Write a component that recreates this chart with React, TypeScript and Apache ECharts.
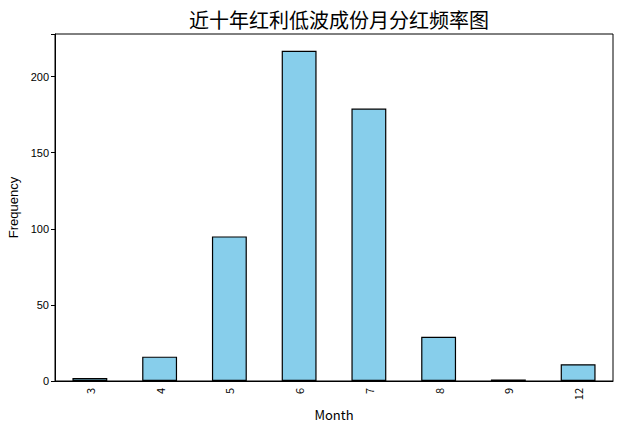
import React, { useEffect, useRef } from "react";
import * as echarts from "echarts";

const months = ["3", "4", "5", "6", "7", "8", "9", "12"];
const frequency = [2, 16, 95, 217, 179, 29, 1, 11];
const yTicks = { min: 0, max: 228, interval: 50 };

const CJK = '"Noto Sans CJK SC", "SimHei", sans-serif';

export default function App() {
  const ref = useRef<HTMLDivElement>(null);
  useEffect(() => {
    if (!ref.current) return;
    const chart = echarts.init(ref.current, undefined, { renderer: "svg" });
    chart.setOption({
      animation: false,
      backgroundColor: "#ffffff",
      title: {
        text: "近十年红利低波成份月分红频率图",
        left: 334,
        textAlign: "center",
        top: 4,
        textStyle: { fontFamily: CJK, fontSize: 20, fontWeight: "normal", color: "#000" },
      },
      grid: {
        left: 55, top: 34, right: 27, bottom: 43,
        containLabel: false, outerBoundsMode: "none",
        show: true, borderColor: "#000", borderWidth: 1,
      },
      xAxis: {
        type: "category",
        data: months,
        name: "Month",
        nameLocation: "middle",
        nameGap: 24,
        nameTextStyle: { fontFamily: CJK, fontSize: 13, color: "#000" },
        axisLine: { lineStyle: { color: "#000", width: 1 } },
        axisTick: { alignWithLabel: true, length: 4, lineStyle: { color: "#000" } },
        axisLabel: { rotate: 90, fontFamily: CJK, fontSize: 11, color: "#000", margin: 7 },
      },
      yAxis: {
        type: "value",
        min: yTicks.min,
        max: yTicks.max,
        interval: yTicks.interval,
        name: "Frequency",
        nameLocation: "middle",
        nameGap: 33,
        nameTextStyle: { fontFamily: '"Liberation Sans", Arial, sans-serif', fontSize: 13, color: "#000" },
        axisLine: { show: true, lineStyle: { color: "#000", width: 1 } },
        axisTick: { show: true, length: 4, lineStyle: { color: "#000" } },
        axisLabel: {
          fontFamily: '"Liberation Sans", Arial, sans-serif',
          fontSize: 11,
          color: "#000",
          margin: 6,
          formatter: (v: number) => (v % 50 === 0 ? String(v) : ""),
        },
        splitLine: { show: false },
      },
      series: [
        {
          type: "bar",
          data: frequency,
          barWidth: "50%",
          itemStyle: { color: "#87CEEB", borderColor: "#000", borderWidth: 1.2 },
        },
      ],
    });
    return () => chart.dispose();
  }, []);
  return <div ref={ref} style={{ position: "fixed", left: 0, top: 0, width: 640, height: 424 }} />;
}
